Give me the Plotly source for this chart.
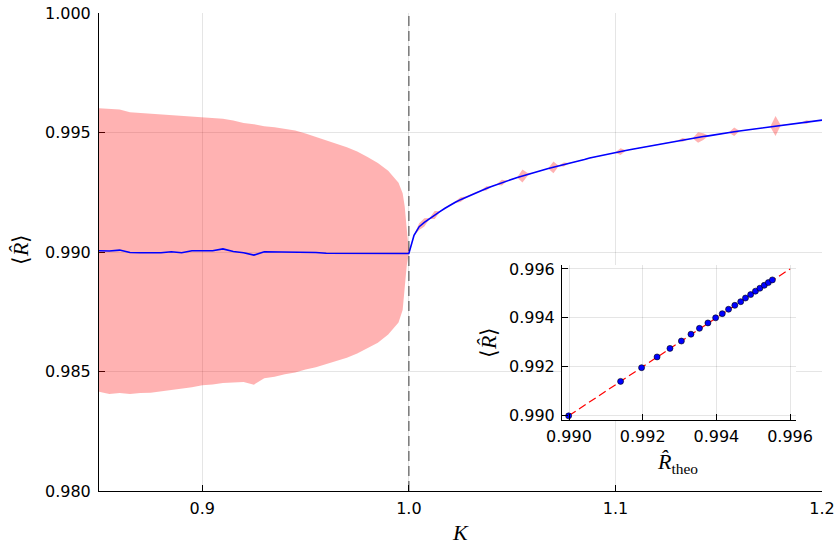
import numpy as np
import plotly.graph_objects as go

# ---------------- data ----------------
# K <= 1 : simulation mean and band (upper / lower)
K_sub = [0.850, 0.855, 0.860, 0.865, 0.870, 0.875, 0.880, 0.885, 0.890, 0.895,
         0.900, 0.905, 0.910, 0.915, 0.920, 0.925, 0.930, 0.935, 0.940, 0.945,
         0.950, 0.955, 0.960, 0.965, 0.970, 0.975, 0.980, 0.985, 0.990, 0.995,
         0.997, 0.998, 0.999, 1.000]
R_sub_mean = [0.99005, 0.99004, 0.99008, 0.98998, 0.98997, 0.98997, 0.98997, 0.99001, 0.98997, 0.99005,
              0.99005, 0.99005, 0.99013, 0.99002, 0.98997, 0.98987, 0.99001, 0.99001, 0.99001, 0.99001,
              0.98998, 0.98998, 0.98995, 0.98995, 0.98994, 0.98994, 0.98994, 0.98995, 0.98994, 0.98994,
              0.98994, 0.98994, 0.98994, 0.98994]
R_sub_hi = [0.99601, 0.99598, 0.99596, 0.99585, 0.99582, 0.99580, 0.99576, 0.99574, 0.99573, 0.99570,
            0.99566, 0.99563, 0.99558, 0.99550, 0.99540, 0.99535, 0.99526, 0.99522, 0.99514, 0.99508,
            0.99496, 0.99482, 0.99468, 0.99452, 0.99438, 0.99420, 0.99398, 0.99372, 0.99340, 0.99290,
            0.99246, 0.99190, 0.99085, 0.99000]
R_sub_lo = [0.98415, 0.98406, 0.98410, 0.98406, 0.98410, 0.98411, 0.98415, 0.98420, 0.98428, 0.98434,
            0.98442, 0.98446, 0.98452, 0.98455, 0.98456, 0.98445, 0.98472, 0.98478, 0.98488, 0.98496,
            0.98508, 0.98518, 0.98530, 0.98545, 0.98558, 0.98575, 0.98596, 0.98620, 0.98655, 0.98705,
            0.98757, 0.98841, 0.98945, 0.98995]

# K > 1 : simulation mean and standard deviation
K_sup = list(np.round(1.0 + 0.0025 * np.arange(1, 81), 4))
R_sup_mean = [0.99070, 0.99106, 0.99124, 0.99140, 0.99155, 0.99169, 0.99183, 0.99197, 0.99208, 0.99219,
              0.99229, 0.99239, 0.99248, 0.99257, 0.99266, 0.99274, 0.99282, 0.99290, 0.99298, 0.99305,
              0.99312, 0.99318, 0.99325, 0.99331, 0.99337, 0.99343, 0.99349, 0.99354, 0.99360, 0.99366,
              0.99371, 0.99377, 0.99382, 0.99387, 0.99393, 0.99398, 0.99402, 0.99407, 0.99412, 0.99416,
              0.99420, 0.99425, 0.99429, 0.99433, 0.99437, 0.99442, 0.99446, 0.99450, 0.99454, 0.99458,
              0.99462, 0.99466, 0.99469, 0.99472, 0.99476, 0.99479, 0.99483, 0.99486, 0.99490, 0.99493,
              0.99496, 0.99500, 0.99503, 0.99506, 0.99509, 0.99512, 0.99515, 0.99518, 0.99521, 0.99524,
              0.99527, 0.99530, 0.99533, 0.99536, 0.99538, 0.99541, 0.99544, 0.99547, 0.99549, 0.99552]
R_sup_sd = [0.00001, 0.00014, 0.00017, 0.00002, 0.00017, 0.00002, 0.00002, 0.00003, 0.00003, 0.00010,
            0.00003, 0.00003, 0.00003, 0.00001, 0.00009, 0.00001, 0.00001, 0.00012, 0.00001, 0.00001,
            0.00001, 0.00027, 0.00006, 0.00001, 0.00001, 0.00001, 0.00001, 0.00025, 0.00001, 0.00008,
            0.00001, 0.00001, 0.00001, 0.00001, 0.00001, 0.00001, 0.00001, 0.00001, 0.00001, 0.00001,
            0.00014, 0.00001, 0.00001, 0.00001, 0.00001, 0.00001, 0.00001, 0.00001, 0.00001, 0.00001,
            0.00001, 0.00001, 0.00008, 0.00001, 0.00001, 0.00022, 0.00014, 0.00001, 0.00001, 0.00001,
            0.00001, 0.00001, 0.00018, 0.00001, 0.00001, 0.00001, 0.00001, 0.00001, 0.00001, 0.00001,
            0.00042, 0.00001, 0.00001, 0.00001, 0.00001, 0.00001, 0.00007, 0.00001, 0.00001, 0.00001]

# inset: simulated mean vs theoretical value
R_theo = [0.98999, 0.99140, 0.99197, 0.99239, 0.99274, 0.99305, 0.99331, 0.99354, 0.99377, 0.99398,
          0.99416, 0.99433, 0.99450, 0.99466, 0.99479, 0.99493, 0.99506, 0.99518, 0.99530, 0.99541, 0.99552]
R_sim = [0.98999, 0.99140, 0.99196, 0.99240, 0.99275, 0.99305, 0.99333, 0.99357, 0.99379, 0.99400,
         0.99417, 0.99435, 0.99451, 0.99466, 0.99481, 0.99495, 0.99509, 0.99521, 0.99533, 0.99544, 0.99555]
diag = [0.990, 0.996]

K_c = 1.0
x_ticks = [0.9, 1.0, 1.1, 1.2]
y_ticks = [0.980, 0.985, 0.990, 0.995, 1.000]
inset_ticks = [0.990, 0.992, 0.994, 0.996]

# ---------------- build ----------------
sup_hi = [m + s for m, s in zip(R_sup_mean, R_sup_sd)]
sup_lo = [m - s for m, s in zip(R_sup_mean, R_sup_sd)]
K_all = list(K_sub) + list(K_sup)
mean_all = R_sub_mean + R_sup_mean
hi_all = R_sub_hi + sup_hi
lo_all = R_sub_lo + sup_lo

fig = go.Figure()
fig.add_trace(go.Scatter(x=K_all + K_all[::-1], y=hi_all + lo_all[::-1], fill="toself",
                         fillcolor="rgba(255,0,0,0.3)", line=dict(width=0), mode="lines",
                         hoverinfo="skip"))
fig.add_trace(go.Scatter(x=K_all, y=mean_all, mode="lines", line=dict(color="#0000ff", width=1.6)))

fig.add_trace(go.Scatter(x=diag, y=diag, mode="lines", xaxis="x2", yaxis="y2",
                         line=dict(color="#ff0000", width=1.2, dash="8px,4px")))
fig.add_trace(go.Scatter(x=R_theo, y=R_sim, mode="markers", xaxis="x2", yaxis="y2",
                         marker=dict(color="#0000ff", size=6, line=dict(color="black", width=0.6))))

tickfont = dict(family="DejaVu Sans", size=16, color="black")
grid = "rgba(0,0,0,0.1)"
common = dict(showline=True, linecolor="black", linewidth=1, ticks="inside", ticklen=6,
              tickcolor="black", tickwidth=1, showgrid=True, gridcolor=grid, gridwidth=1,
              zeroline=False, tickfont=tickfont, mirror=False, automargin=False)

inset_xr = [0.98981, 0.99616]
inset_yr = [0.98982, 0.99616]

fig.update_layout(
    width=840, height=548,
    margin=dict(l=99, r=18, t=13, b=57, autoexpand=False),
    paper_bgcolor="white", plot_bgcolor="white",
    showlegend=False,
    xaxis=dict(range=[0.85, 1.2], tickvals=x_ticks, tickformat=".1f", domain=[0, 1],
               layer="below traces", ticklabelstandoff=3, **common),
    yaxis=dict(range=[0.98, 1.0], tickvals=y_ticks, tickformat=".3f", domain=[0, 1],
               layer="below traces", ticklabelstandoff=4, **common),
    xaxis2=dict(range=inset_xr, tickvals=inset_ticks, tickformat=".3f", anchor="y2",
                domain=[0.6404, 0.964], ticklabelstandoff=2, **common),
    yaxis2=dict(range=inset_yr, tickvals=inset_ticks, tickformat=".3f", anchor="x2",
                domain=[0.1485, 0.4728], ticklabelstandoff=3, **common),
    shapes=[
        dict(type="rect", xref="x2", yref="y2", x0=inset_xr[0], x1=inset_xr[1],
             y0=inset_yr[0], y1=inset_yr[1], fillcolor="white", line=dict(width=0), layer="below"),
        dict(type="line", xref="x", yref="paper", x0=K_c, x1=K_c, y0=0, y1=1,
             line=dict(color="rgba(0,0,0,0.5)", width=1.5, dash="10px,5px"), layer="above"),
    ],
)

tfont = dict(family="Liberation Serif", size=22, color="black")
fig.add_annotation(text="<i>K</i>", x=0.5, y=-0.0858, xref="paper", yref="paper",
                   showarrow=False, xanchor="center", yanchor="middle", font=tfont)
fig.add_annotation(text="⟨<i>R̂</i>⟩", x=-0.1079, y=0.5063, xref="paper", yref="paper",
                   showarrow=False, xanchor="center", yanchor="middle", textangle=-90, font=tfont)
fig.add_annotation(text="<i>R̂</i><sub>theo</sub>", x=0.8008, y=0.058, xref="paper", yref="paper",
                   showarrow=False, xanchor="center", yanchor="middle", font=tfont)
fig.add_annotation(text="⟨<i>R̂</i>⟩", x=0.538, y=0.3117, xref="paper", yref="paper",
                   showarrow=False, xanchor="center", yanchor="middle", textangle=-90, font=tfont)

fig.write_html("out.html")
